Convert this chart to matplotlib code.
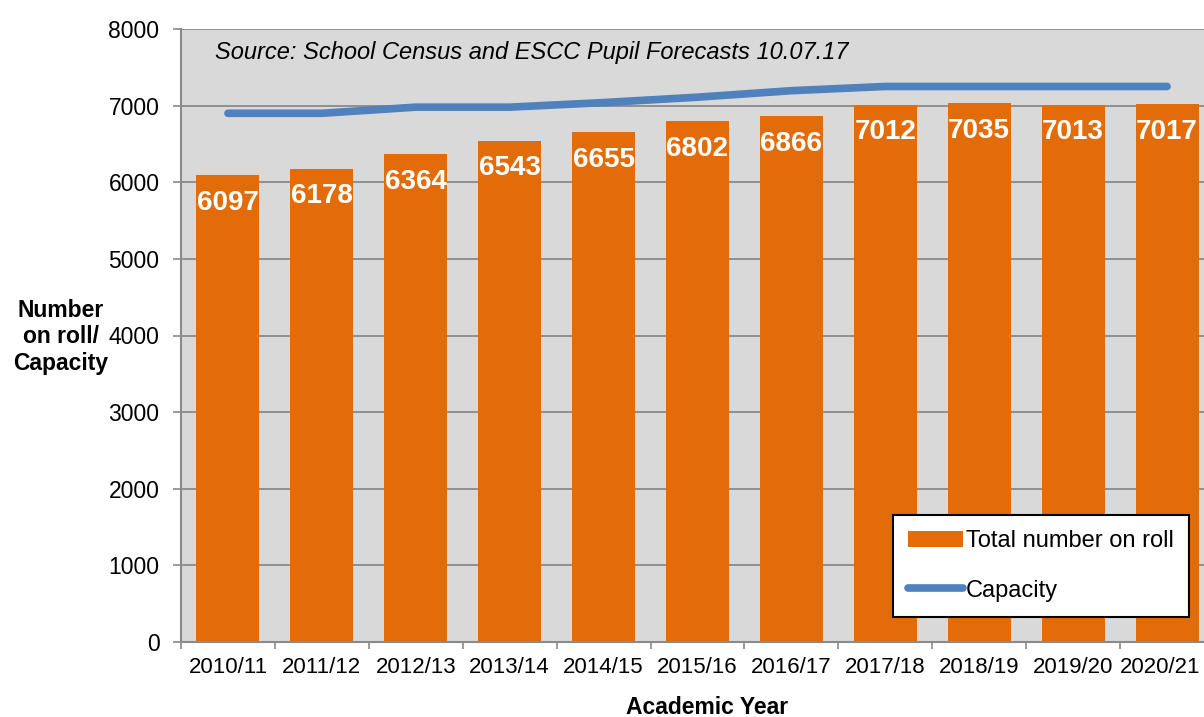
import matplotlib
matplotlib.use("Agg")
import matplotlib.pyplot as plt
import matplotlib.transforms as mtransforms
from matplotlib.patches import Patch
from matplotlib.lines import Line2D
import numpy as np

years = ["2010/11", "2011/12", "2012/13", "2013/14", "2014/15", "2015/16",
         "2016/17", "2017/18", "2018/19", "2019/20", "2020/21"]
on_roll = [6097, 6178, 6364, 6543, 6655, 6802, 6866, 7012, 7035, 7013, 7017]
capacity = [6900, 6900, 6980, 6980, 7040, 7110, 7195, 7250, 7250, 7250, 7250]
y_ticks = [0, 1000, 2000, 3000, 4000, 5000, 6000, 7000, 8000]

plt.rcParams['font.family'] = ['Liberation Sans', 'DejaVu Sans']

W, H = 1204, 717
fig = plt.figure(figsize=(W / 100, H / 100), dpi=100)
left, right, top, bottom = 181, 1214, 29, 642
ax = fig.add_axes([left / W, 1 - bottom / H, (right - left) / W, (bottom - top) / H])
ax.set_facecolor('#D9D9D9')

FS = 16.5
x = np.arange(len(years))
bar_color = '#E36C0A'
line_color = '#4F81BD'
ax.bar(x, on_roll, width=0.67, color=bar_color, zorder=2)
ax.plot(x, capacity, color=line_color, lw=5.5, solid_capstyle='round', zorder=3)

for xi, v in zip(x, on_roll):
    ax.annotate(str(v), (xi, v), xytext=(0, -20), textcoords='offset points',
                ha='center', va='center', color='white', fontsize=20,
                fontweight='bold', zorder=4)

ax.set_xlim(-0.5, len(years) - 0.5)
ax.set_ylim(0, 8000)
ax.set_yticks(y_ticks)
ax.set_yticklabels([str(t) for t in y_ticks], fontsize=FS)
ax.yaxis.grid(True, color='#8A8A8A', lw=1.3, zorder=1)
ax.set_axisbelow(True)

ax.set_xticks(x)
ax.set_xticklabels(years, fontsize=16)
ax.set_xticks(np.arange(len(years) + 1) - 0.5, minor=True)
ax.tick_params(axis='x', which='major', length=0, pad=11)
ax.tick_params(axis='x', which='minor', length=5, width=1.2, color='#8A8A8A')
ax.tick_params(axis='y', length=5.5, width=1.2, color='#8A8A8A', pad=10)

# keep the last category label inside the figure, as in the reference
last = ax.get_xticklabels()[-1]
last.set_transform(last.get_transform() +
                   mtransforms.ScaledTranslation(-7 / 100, 0, fig.dpi_scale_trans))

for s in ['top', 'right']:
    ax.spines[s].set_visible(False)
for s in ['left', 'bottom']:
    ax.spines[s].set_color('#8A8A8A')
    ax.spines[s].set_linewidth(1.5)

ax.text((215 - left) / (right - left), (bottom - 52) / (bottom - top),
        'Source: School Census and ESCC Pupil Forecasts 10.07.17',
        transform=ax.transAxes, fontsize=17, style='italic', ha='left', va='center')

fig.text(61 / W, 1 - 337 / H, 'Number\non roll/\nCapacity', ha='center', va='center',
         multialignment='center', fontsize=FS, fontweight='bold', linespacing=1.22)
fig.text(707 / W, 1 - 707 / H, 'Academic Year', ha='center', va='center',
         fontsize=FS, fontweight='bold')

handles = [Patch(facecolor=bar_color, edgecolor='none'),
           Line2D([0], [0], color=line_color, lw=5.5, solid_capstyle='round')]
leg = ax.legend(handles, ['Total number on roll', 'Capacity'],
                loc='upper left',
                bbox_to_anchor=((893 - left) / (right - left), (bottom - 515) / (bottom - top)),
                fontsize=17, frameon=True, fancybox=False, framealpha=1,
                edgecolor='black', handlelength=2.3, handletextpad=0.15,
                labelspacing=1.15, borderpad=0.65, borderaxespad=0)
leg.get_frame().set_linewidth(1.5)
leg.set_zorder(5)

fig.savefig('out.png', dpi=100)
